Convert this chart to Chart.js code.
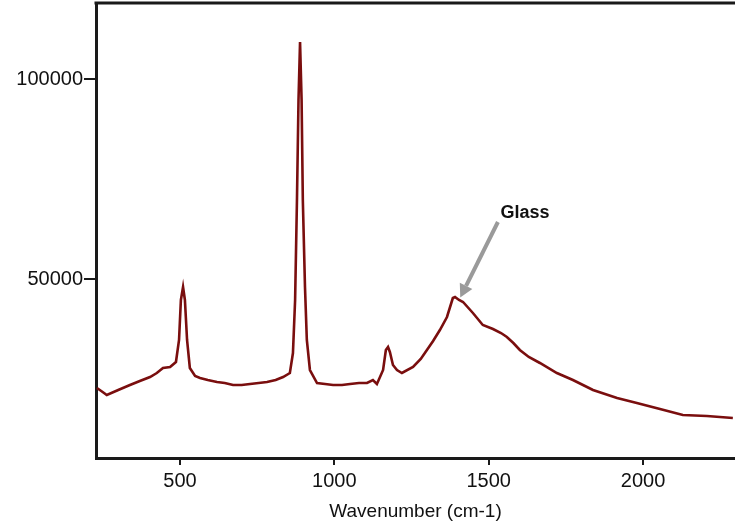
<!DOCTYPE html>
<html>
<head>
<meta charset="utf-8">
<script src="https://cdn.jsdelivr.net/npm/chart.js@4.4.1/dist/chart.umd.min.js"></script>
<style>
  html,body{margin:0;padding:0;background:#fff;overflow:hidden;}
  #wrap{width:735px;height:529px;position:relative;}
</style>
</head>
<body>
<div id="wrap"><canvas id="ramanChart" width="735" height="529"></canvas></div>
<script>
/* ---------- DATA ---------- */

// wavenumber (cm-1)
const wavenumbers = [231,245,263,300,338,370,403,425,445,468,487,497,503,510,516,523,532,549,565,590,620,645,672,700,727,755,782,810,834,856,866,873,879,884,889,894,898,905,911,921,944,970,996,1025,1051,1080,1106,1125,1138,1158,1167,1174,1180,1190,1203,1219,1255,1280,1300,1320,1342,1365,1384,1391,1404,1417,1449,1481,1514,1540,1559,1580,1601,1630,1666,1721,1773,1838,1916,1980,2055,2129,2207,2291]
// intensity
const intensity = [22750,22000,21000,22250,23500,24500,25500,26500,27750,28000,29250,34750,44750,48000,44750,34750,27750,25750,25250,24750,24250,24000,23500,23500,23750,24000,24250,24750,25500,26500,31500,44750,69750,94750,109250,94750,69750,48000,34750,27250,24000,23750,23500,23500,23750,24000,24000,24750,23750,27250,32250,33000,31750,28500,27250,26500,28000,30000,32250,34500,37250,40500,45250,45500,44750,44250,41500,38500,37500,36500,35500,34000,32250,30500,29000,26500,24750,22250,20250,19000,17500,16000,15750,15250]

const xTicks = [500,1000,1500,2000]
const yTicks = [50000,100000]
const xRange = [228,2298]
const yRange = [5250,119000]

const noteText = "Glass"
const notePos = [1618,66500]    // label centre
const arrowFrom = [1530,64250]
const arrowTo = [1408,45400]

const FONT = "'Liberation Sans', Arial, sans-serif"
const INK = "#1a1a1a"

/* ---------- PLUGINS ---------- */

const frameTop = {
  id:'frameTop',
  afterDraw(chart){
    const {ctx, chartArea:a} = chart
    ctx.save()
    ctx.strokeStyle = INK
    ctx.lineWidth = 3
    ctx.beginPath()
    ctx.moveTo(a.left-1.5, a.top)
    ctx.lineTo(a.right+2, a.top)
    ctx.stroke()
    ctx.restore()
  }
}

const glassNote = {
  id:'glassNote',
  afterDatasetsDraw(chart){
    const {ctx, scales:{x,y}} = chart
    const x0 = x.getPixelForValue(arrowFrom[0]), y0 = y.getPixelForValue(arrowFrom[1])
    const x1 = x.getPixelForValue(arrowTo[0]), y1 = y.getPixelForValue(arrowTo[1])
    const ang = Math.atan2(y1-y0, x1-x0)
    const head = 13, half = 7
    const bx = x1 - head*Math.cos(ang), by = y1 - head*Math.sin(ang)
    ctx.save()
    ctx.strokeStyle = "#9a9a9a"
    ctx.fillStyle = "#9a9a9a"
    ctx.lineWidth = 4
    ctx.beginPath()
    ctx.moveTo(x0,y0)
    ctx.lineTo(bx,by)
    ctx.stroke()
    ctx.beginPath()
    ctx.moveTo(x1,y1)
    ctx.lineTo(bx + half*Math.sin(ang), by - half*Math.cos(ang))
    ctx.lineTo(bx - half*Math.sin(ang), by + half*Math.cos(ang))
    ctx.closePath()
    ctx.fill()
    ctx.fillStyle = "#111"
    ctx.font = "bold 18px " + FONT
    ctx.textAlign = "center"
    ctx.textBaseline = "middle"
    ctx.fillText(noteText, x.getPixelForValue(notePos[0]), y.getPixelForValue(notePos[1]))
    ctx.restore()
  }
}

/* ---------- SPECTRUM ---------- */

try {
  new Chart(document.getElementById("ramanChart"),{
  type:'line',
  data:{
  datasets:[
  {
  label:"Spectrum",
  data:wavenumbers.map((w,i)=>({x:w,y:intensity[i]})),
  borderColor:"#7a0e0e",
  borderWidth:2.6,
  pointRadius:0,
  tension:0,
  fill:false
  }
  ]
  },
  options:{
  responsive:false,
  animation:false,
  layout:{padding:{top:3,right:0,left:0,bottom:0}},
  plugins:{legend:{display:false},tooltip:{enabled:false}},
  scales:{
  x:{
  type:'linear',
  min:xRange[0],
  max:xRange[1],
  afterBuildTicks:ax=>{ax.ticks = xTicks.map(v=>({value:v}))},
  afterFit:ax=>{ax.height = 71; ax.paddingLeft = 0; ax.paddingRight = 0},
  grid:{display:true,drawOnChartArea:false,drawTicks:true,tickLength:7,tickColor:INK,lineWidth:2},
  border:{display:true,color:INK,width:3},
  ticks:{color:"#111",font:{family:FONT,size:20},padding:4,maxRotation:0,callback:v=>String(v)},
  title:{display:true,text:"Wavenumber (cm-1)",color:"#111",font:{family:FONT,size:19},padding:{top:0,bottom:6}}
  },
  y:{
  type:'linear',
  min:yRange[0],
  max:yRange[1],
  afterBuildTicks:ax=>{ax.ticks = yTicks.map(v=>({value:v}))},
  afterFit:ax=>{ax.width = 96; ax.paddingTop = 0; ax.paddingBottom = 0},
  grid:{display:true,drawOnChartArea:false,drawTicks:true,tickLength:12,tickColor:INK,lineWidth:2},
  border:{display:true,color:INK,width:3},
  ticks:{color:"#111",font:{family:FONT,size:20},padding:1,callback:v=>String(v)}
  }
  }
  },
  plugins:[frameTop,glassNote]
  })
} catch(e) {
  console.error('Error initializing spectrum chart:', e)
}
</script>
</body>
</html>
